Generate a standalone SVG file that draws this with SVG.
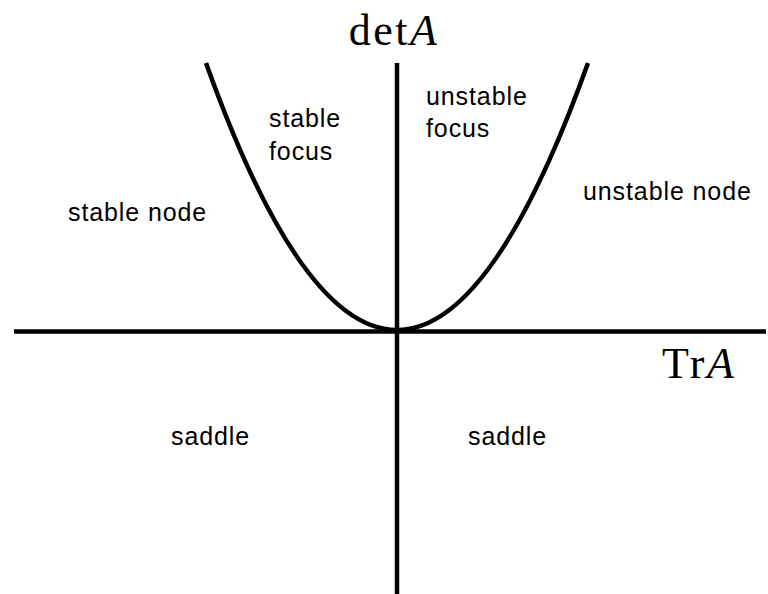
<svg xmlns="http://www.w3.org/2000/svg" width="768" height="594" viewBox="0 0 768 594">
<style>
.lbl{font-family:"Liberation Sans",Arial,sans-serif;font-size:25px;letter-spacing:0.9px;fill:#000}
.math{font-family:"Liberation Serif","Times New Roman",serif;font-size:44px;fill:#000;letter-spacing:2.5px}
.ax{stroke:#000;stroke-width:4.5;fill:none}
</style>
<rect width="768" height="594" fill="#fff"/>
<g id="connectors">
<line class="ax" x1="14" y1="331.5" x2="766" y2="331.5"/>
<line class="ax" x1="397" y1="63" x2="397" y2="594"/>
<path class="ax" d="M206,63 Q397,597 588,63" stroke-width="4"/>
</g>
<g id="detA"><text class="math" x="394" y="45" text-anchor="middle">det<tspan font-style="italic">A</tspan></text></g>
<g id="TrA"><text class="math" x="662" y="378">Tr<tspan font-style="italic">A</tspan></text></g>
<g id="stable-focus"><text class="lbl" x="269" y="127">stable</text><text class="lbl" x="269" y="160">focus</text></g>
<g id="unstable-focus"><text class="lbl" x="426" y="105">unstable</text><text class="lbl" x="426" y="137">focus</text></g>
<g id="stable-node"><text class="lbl" x="68" y="221">stable node</text></g>
<g id="unstable-node"><text class="lbl" x="583" y="200">unstable node</text></g>
<g id="saddle-left"><text class="lbl" x="171" y="445">saddle</text></g>
<g id="saddle-right"><text class="lbl" x="468" y="445">saddle</text></g>
</svg>
